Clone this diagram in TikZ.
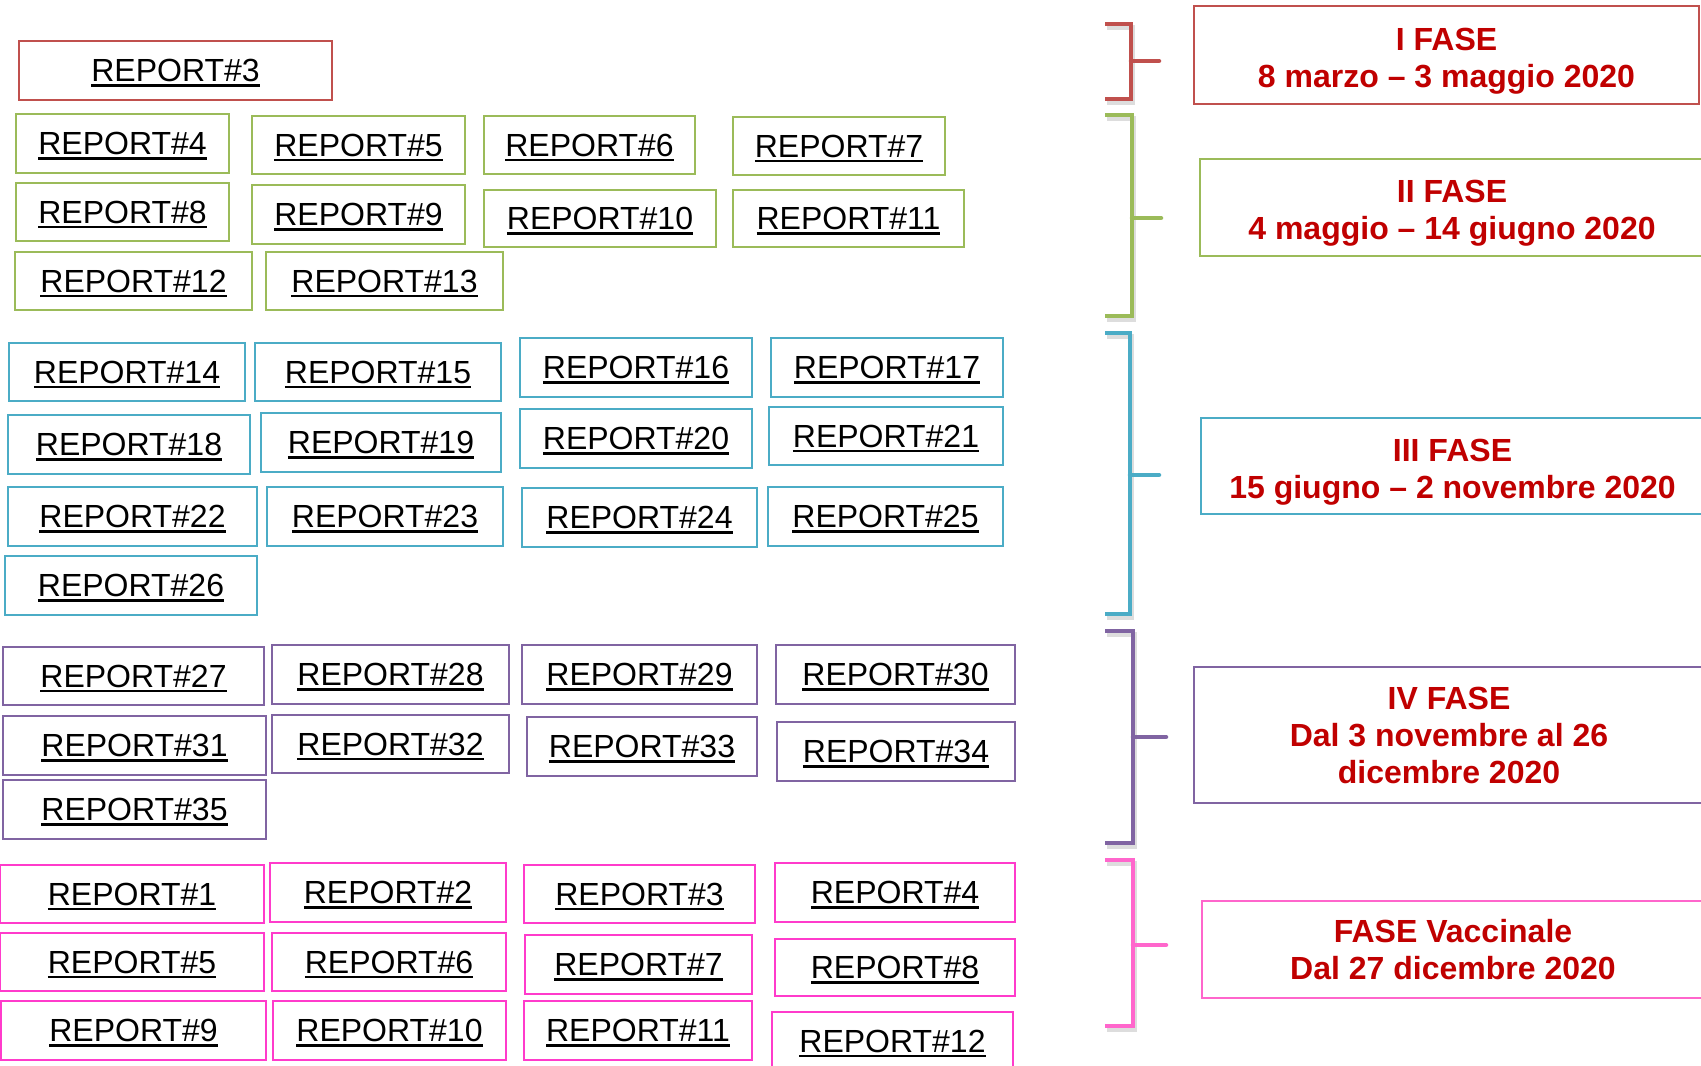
\documentclass[tikz,border=0pt]{standalone}
\usepackage{fontspec}
\setmainfont{Liberation Sans}
\definecolor{cred}{HTML}{C0504D}
\definecolor{cgreen}{HTML}{9BBB59}
\definecolor{cblue}{HTML}{4BACC6}
\definecolor{cpurple}{HTML}{8064A2}
\definecolor{cpink}{HTML}{FF3BCB}
\definecolor{cpinkb}{HTML}{FF66CC}
\definecolor{ctext}{HTML}{C00000}
\newcommand\repul[1]{\setbox0=\hbox{#1}\rlap{\rule[-5pt]{\wd0}{2.6pt}}\box0}
\newcommand\lowstrut{\rule{0pt}{34pt}}
\newcommand\rbox[7]{\node[repbox, draw=#2, minimum width={#5-#3}, minimum height={#6-#4}] (#1) at ({(#3+#5)/2},{(#4+#6)/2}) {\repul{REPORT\##7}};}
\newcommand\pbox[7]{\node[phasebox, draw=#2, minimum width={#5-#3}, minimum height={#6-#4}] (#1) at ({(#3+#5)/2},{(#4+#6)/2}) {#7};}
\newcommand\brk[6]{%
  \draw[bracketline, gray!45, opacity=0.6, shift={(1.5,3.5)}] (1105,#2) -- (#4,#2) -- (#4,#3) -- (1105,#3);
  \draw[bracketline, #1] (1105,#2) -- (#4,#2) -- (#4,#3) -- (1105,#3);
  \draw[bracketline, #1, line cap=round] (#4,#5) -- (#6,#5);}
\begin{document}
\begin{tikzpicture}[x=1pt,y=-1pt,
  repbox/.style={draw, line width=2pt, inner sep=0pt, text depth=0pt, font=\fontsize{32}{38}\selectfont},
  phasebox/.style={draw, line width=2pt, inner sep=0pt, align=center, text=ctext, font=\bfseries\fontsize{32}{37}\selectfont},
  bracketline/.style={line width=4.5pt, line join=miter}]
\useasboundingbox (0,0) rectangle (1701,1066);
\clip (0,0) rectangle (1701,1066);
% red
\rbox{r3}{cred}{19}{41}{332}{100}{3}
% green
\rbox{g4}{cgreen}{16}{114}{229}{173}{4}
\rbox{g5}{cgreen}{252}{116}{465}{174}{5}
\rbox{g6}{cgreen}{484}{116}{695}{174}{6}
\rbox{g7}{cgreen}{733}{117}{945}{175}{7}
\rbox{g8}{cgreen}{16}{183}{229}{241}{8}
\rbox{g9}{cgreen}{252}{185}{465}{244}{9}
\rbox{g10}{cgreen}{484}{190}{716}{247}{10}
\rbox{g11}{cgreen}{733}{190}{964}{247}{11}
\rbox{g12}{cgreen}{15}{252}{252}{310}{12}
\rbox{g13}{cgreen}{266}{252}{503}{310}{13}
% blue
\rbox{b14}{cblue}{9}{343}{245}{401}{14}
\rbox{b15}{cblue}{255}{343}{501}{401}{15}
\rbox{b16}{cblue}{520}{338}{752}{397}{16}
\rbox{b17}{cblue}{771}{338}{1003}{397}{17}
\rbox{b18}{cblue}{8}{415}{250}{474}{18}
\rbox{b19}{cblue}{261}{413}{501}{472}{19}
\rbox{b20}{cblue}{520}{409}{752}{468}{20}
\rbox{b21}{cblue}{769}{407}{1003}{465}{21}
\rbox{b22}{cblue}{8}{487}{257}{546}{22}
\rbox{b23}{cblue}{267}{487}{503}{546}{23}
\rbox{b24}{cblue}{522}{488}{757}{547}{24}
\rbox{b25}{cblue}{768}{487}{1003}{546}{25}
\rbox{b26}{cblue}{5}{556}{257}{615}{26}
% purple
\rbox{p27}{cpurple}{3}{647}{264}{705}{27}
\rbox{p28}{cpurple}{272}{645}{509}{704}{28}
\rbox{p29}{cpurple}{522}{645}{757}{704}{29}
\rbox{p30}{cpurple}{776}{645}{1015}{704}{30}
\rbox{p31}{cpurple}{3}{716}{266}{775}{31}
\rbox{p32}{cpurple}{272}{715}{509}{773}{32}
\rbox{p33}{cpurple}{527}{717}{757}{776}{33}
\rbox{p34}{cpurple}{777}{722}{1015}{781}{34}
\rbox{p35}{cpurple}{3}{780}{266}{839}{35}
% pink
\rbox{k1}{cpink}{0}{865}{264}{923}{1}
\rbox{k2}{cpink}{270}{863}{506}{922}{2}
\rbox{k3}{cpink}{524}{865}{755}{923}{3}
\rbox{k4}{cpink}{775}{863}{1015}{922}{4}
\rbox{k5}{cpink}{0}{933}{264}{991}{5}
\rbox{k6}{cpink}{272}{933}{506}{991}{6}
\rbox{k7}{cpink}{525}{935}{752}{994}{7}
\rbox{k8}{cpink}{775}{939}{1015}{996}{8}
\rbox{k9}{cpink}{1}{1001}{266}{1060}{9}
\rbox{k10}{cpink}{273}{1001}{506}{1060}{10}
\rbox{k11}{cpink}{524}{1001}{752}{1060}{11}
\rbox{k12}{cpink}{772}{1012}{1013}{1070}{12}
% brackets
\brk{cred}{24}{99}{1131}{61}{1159}
\brk{cgreen}{115}{316}{1132}{218}{1161}
\brk{cblue}{333}{614}{1130}{475}{1159}
\brk{cpurple}{631}{843}{1133}{737}{1166}
\brk{cpinkb}{860}{1026}{1133}{945}{1166}
% phase boxes
\pbox{f1}{cred}{1194}{6}{1699}{104}{\lowstrut I FASE\\8 marzo – 3 maggio 2020}
\pbox{f2}{cgreen}{1200}{159}{1704}{256}{\lowstrut II FASE\\4 maggio – 14 giugno 2020}
\pbox{f3}{cblue}{1201}{418}{1704}{514}{\lowstrut III FASE\\15 giugno – 2 novembre 2020}
\pbox{f4}{cpurple}{1194}{667}{1704}{803}{IV FASE\\Dal 3 novembre al 26\\dicembre 2020}
\pbox{f5}{cpinkb}{1202}{901}{1704}{998}{FASE Vaccinale\\Dal 27 dicembre 2020}
\end{tikzpicture}
\end{document}
